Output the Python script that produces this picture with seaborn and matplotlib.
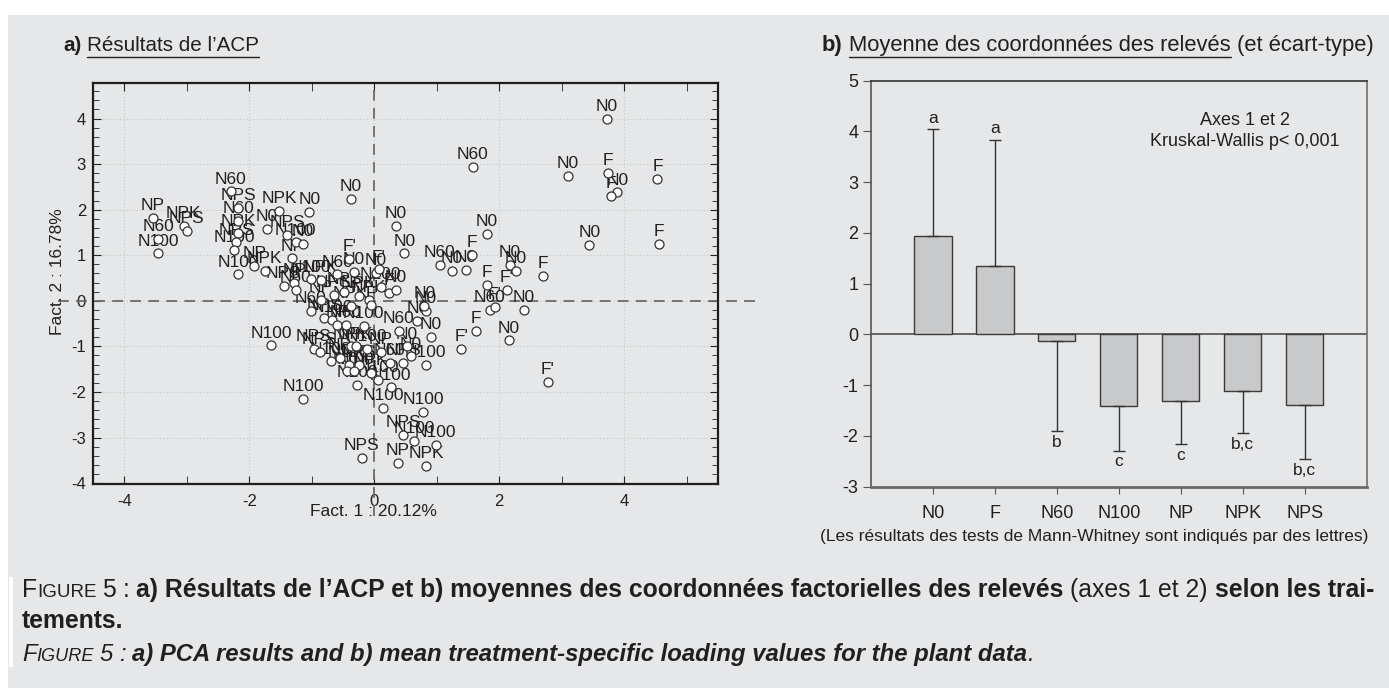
import matplotlib
matplotlib.use("Agg")
import matplotlib.pyplot as plt
from matplotlib.lines import Line2D
from matplotlib.patches import Rectangle
from matplotlib.ticker import MultipleLocator
import pandas as pd
import seaborn as sns

W, H = 1389, 688

# a) PCA scores of the releves (fact. 1, fact. 2) and treatment labels
pca_x = [-3.54, -3.46, -3.46, -3.05, -3.00, -2.30, -2.18, -2.18, -2.18, -2.21,
         -2.24, -2.18, -1.92, -1.75, -1.52, -1.04, -1.72, -1.39, -1.26, -1.14,
         -1.31, -0.38, -1.45, -1.28, -1.26, -1.02, -0.86, -0.59, -0.33, -0.40,
         0.02, 0.07, 0.23, 0.34, -0.09, -0.05, -0.48, -0.65, -0.25, 0.10,
         -0.86, -1.02, -0.80, -0.67, -0.59, -0.38, -0.46, -0.17, 0.69, 0.82,
         0.80, 0.90, 0.39, 0.52, -1.65, -0.97, -0.38, -0.30, -0.12, 0.10,
         -0.55, 0.34, 0.48, 1.80, 1.56, 1.05, 1.24, 1.47, 2.17, 2.27,
         2.70, 1.80, 2.12, 1.85, 1.93, 2.39, 1.63, 2.15, 1.39, 2.78,
         3.72, 1.58, 3.10, 3.74, 4.53, 3.89, 3.78, 3.44, 4.55, 0.82,
         0.59, 0.46, 0.25, 0.26, -0.87, -0.70, -0.41, -0.25, -0.43, -0.33,
         -0.06, 0.06, -0.27, -1.14, 0.14, 0.78, 0.46, 0.64, 0.98, -0.20,
         0.38, 0.83]
pca_y = [1.82, 1.35, 1.04, 1.65, 1.53, 2.40, 2.03, 1.76, 1.48, 1.28,
         1.12, 0.58, 0.77, 0.66, 1.97, 1.95, 1.58, 1.44, 1.28, 1.24,
         0.93, 2.24, 0.33, 0.40, 0.24, 0.47, 0.46, 0.58, 0.64, 0.92,
         0.62, 0.69, 0.17, 0.24, 0.02, -0.10, 0.20, 0.12, 0.10, 0.30,
         0.02, -0.22, -0.38, -0.42, -0.53, -0.12, -0.53, -0.55, -0.45, -0.23,
         -0.12, -0.80, -0.67, -1.00, -0.98, -1.05, -1.00, -1.00, -1.05, -1.12,
         -1.25, 1.64, 1.04, 1.46, 1.00, 0.79, 0.66, 0.68, 0.79, 0.66,
         0.55, 0.34, 0.23, -0.20, -0.13, -0.20, -0.66, -0.87, -1.05, -1.78,
         4.00, 2.94, 2.74, 2.81, 2.68, 2.38, 2.30, 1.22, 1.24, -1.40,
         -1.22, -1.36, -1.36, -1.90, -1.13, -1.33, -1.40, -1.40, -1.55, -1.55,
         -1.58, -1.73, -1.84, -2.15, -2.35, -2.44, -2.95, -3.08, -3.17, -3.44,
         -3.55, -3.63]
pca_lab = ["NP", "N60", "N100", "NPK", "NPS", "N60", "NPS", "N60", "NPK", "NPS",
           "N100", "N100", "NP", "NPK", "NPK", "N0", "N0", "NPS", "N100", "N0",
           "NP", "N0", "NPS", "NP", "N60", "N100", "NPK", "N60", "N0", "F'",
           "N0", "F'", "F", "N0", "NPK", "F", "NPS", "NPS", "NPK", "N100",
           "NP", "N60", "NPS", "N100", "NP", "NPK", "N60", "N100", "N0", "N0",
           "N0", "N0", "N60", "N0", "N100", "NPS", "NPK", "NPK", "N100", "NP",
           "NP", "N0", "N0", "N0", "F", "N60", "N0", "N0", "N0", "N0",
           "F", "F", "F'", "N60", "F'", "N0", "F", "N0", "F'", "F'",
           "N0", "N60", "N0", "F", "F", "N0", "F", "N0", "F", "N100",
           "N0", "NPS", "N60", "N100", "NPS", "N100", "N100", "NPS", "N0", "N100",
           "NPK", "N100", "N100", "N100", "N100", "N100", "NPS", "N100", "N100", "NPS",
           "NP", "NPK"]

# b) mean coordinates per treatment, standard deviation, Mann-Whitney letters
bar_cats = ["N0", "F", "N60", "N100", "NP", "NPK", "NPS"]
bar_means = [1.94, 1.34, -0.12, -1.41, -1.32, -1.11, -1.39]
bar_sd = [2.10, 2.50, 1.79, 0.88, 0.84, 0.84, 1.07]
bar_letters = ["a", "a", "b", "c", "c", "b,c", "b,c"]

BG = "#e6e7e8"
INK = "#231f20"

sns.set_style("ticks")
plt.rcParams["font.family"] = ["Liberation Sans", "DejaVu Sans"]
plt.rcParams["text.color"] = INK
plt.rcParams["axes.labelcolor"] = INK
plt.rcParams["axes.unicode_minus"] = False


def fx(px):
    return px / W


def fy(py):
    return 1 - py / H


fig = plt.figure(figsize=(W / 100, H / 100), dpi=100)
fig.patch.set_facecolor("white")
fig.add_artist(Rectangle((fx(8), 0), 1, fy(15), transform=fig.transFigure,
                         facecolor=BG, edgecolor="none", zorder=-10))
fig.add_artist(Rectangle((fx(9), fy(667)), 4 / W, 90 / H, transform=fig.transFigure,
                         facecolor="white", edgecolor="none", zorder=-9))
rend = fig.canvas.get_renderer()


def runs(x0, base, pieces, size, width=None):
    # pieces: (text, weight, style, relative size, space after)
    arts = []
    x = x0
    for txt, wt, st, rel, sp in pieces:
        t = fig.text(fx(x), fy(base), txt, fontsize=size * rel, fontweight=wt,
                     fontstyle=st, ha="left", va="baseline")
        x += t.get_window_extent(rend).width
        if sp:
            a = fig.text(0, 0, "x x", fontsize=size * rel, fontweight=wt, fontstyle=st)
            b = fig.text(0, 0, "xx", fontsize=size * rel, fontweight=wt, fontstyle=st)
            x += a.get_window_extent(rend).width - b.get_window_extent(rend).width
            a.remove()
            b.remove()
        arts.append(t)
    if width is not None:
        k = width / (x - x0)
        for a in arts:
            a.remove()
        return runs(x0, base, pieces, size * k)
    return arts, size


def underline(art, base):
    bb = art.get_window_extent(rend)
    fig.add_artist(Line2D([fx(bb.x0), fx(bb.x1)], [fy(base + 5.5)] * 2,
                          transform=fig.transFigure, color=INK, lw=1.0))


# ---------------- panel a: PCA scatter ----------------
ax1 = fig.add_axes([fx(93), fy(484), (718 - 93) / W, (484 - 83) / H])
ax1.set_facecolor(BG)
df = pd.DataFrame({"f1": pca_x, "f2": pca_y, "trt": pca_lab})
sns.scatterplot(data=df, x="f1", y="f2", ax=ax1, color="white", edgecolor="#333333",
                s=42, linewidth=0.9, zorder=3, legend=False)
for _, r in df.iterrows():
    ax1.annotate(r["trt"], (r["f1"], r["f2"]), xytext=(0, 3.5), textcoords="offset points",
                 ha="center", va="bottom", fontsize=12.5, color=INK, zorder=2)

ax1.set_xlim(-4.5, 5.5)
ax1.set_ylim(-4.02, 4.78)
ax1.xaxis.set_major_locator(MultipleLocator(2))
ax1.xaxis.set_minor_locator(MultipleLocator(1))
ax1.yaxis.set_major_locator(MultipleLocator(1))
ax1.yaxis.set_minor_locator(MultipleLocator(0.2))
ax1.grid(which="major", ls=(0, (1, 2)), color="#c8c8c8", lw=0.8)
ax1.set_xlabel("")
ax1.set_ylabel("")
ax1.tick_params(which="both", top=True, right=True, direction="in", colors="#222222",
                labelcolor=INK, labelsize=12)
ax1.tick_params(which="major", length=6)
ax1.tick_params(which="minor", length=4)
ax1.tick_params(axis="x", which="minor", length=6)
ax1.tick_params(axis="x", pad=7)
ax1.tick_params(axis="y", pad=5)
for s in ax1.spines.values():
    s.set_color("#1e1e1e")
    s.set_linewidth(1.6)

dash = (0, (6, 4))
ax1.plot([-0.056, 1.059], [0, 0], transform=ax1.get_yaxis_transform(), clip_on=False,
         ls=dash, color="#6a6a6a", lw=1.3, zorder=1)
ax1.plot([0, 0], [-0.08, 1.0], transform=ax1.get_xaxis_transform(), clip_on=False,
         ls=dash, color="#6a6a6a", lw=1.3, zorder=1)

fig.text(fx(373), fy(512), "Fact. 1 : 20.12%", ha="center", va="center", fontsize=12.5)
fig.text(fx(57), fy(272), "Fact. 2 : 16.78%", ha="center", va="center",
         rotation=90, fontsize=12.5)

# ---------------- panel b: bar chart ----------------
ax2 = fig.add_axes([fx(871), fy(486.7), (1366.7 - 871) / W, (486.7 - 80.7) / H])
ax2.set_facecolor(BG)
sns.barplot(x=bar_cats, y=bar_means, ax=ax2, color="#c8c9cb", edgecolor="#3a3a3a",
            linewidth=1.0, width=0.6, errorbar=None, saturation=1, zorder=2)
lo = [sd if m < 0 else 0 for m, sd in zip(bar_means, bar_sd)]
up = [sd if m > 0 else 0 for m, sd in zip(bar_means, bar_sd)]
ax2.errorbar(range(len(bar_cats)), bar_means, yerr=[lo, up], fmt="none", ecolor="#333333",
             elinewidth=1.0, capsize=4.5, capthick=1.0, zorder=3)
ax2.axhline(0, color="#5a5a5a", lw=1.3, zorder=1.5)
for i, (m, sd, let) in enumerate(zip(bar_means, bar_sd, bar_letters)):
    end = m + sd if m > 0 else m - sd
    ax2.annotate(let, (i, end), xytext=(0, 8 if m > 0 else -8), textcoords="offset points",
                 ha="center", va="center", fontsize=12.5, color=INK)

ax2.text(5.03, 4.22, "Axes 1 et 2", ha="center", va="center", fontsize=13)
ax2.text(5.03, 3.80, "Kruskal-Wallis p< 0,001", ha="center", va="center", fontsize=13)

ax2.set_xlim(-1, 7)
ax2.set_ylim(-3, 5)
ax2.yaxis.set_major_locator(MultipleLocator(1))
ax2.tick_params(axis="y", direction="out", length=6, color="#555555", labelsize=13,
                labelcolor=INK, pad=3)
ax2.tick_params(axis="x", direction="out", length=5, color="#555555", labelsize=13,
                labelcolor=INK, pad=8)
ax2.spines["top"].set_color("#333333")
ax2.spines["right"].set_color("#707070")
ax2.spines["left"].set_color("#555555")
ax2.spines["bottom"].set_color("#6a6a6a")
for s in ["top", "right", "left"]:
    ax2.spines[s].set_linewidth(1.2)
ax2.spines["bottom"].set_linewidth(2.0)

fig.text(fx(1094), fy(537), "(Les résultats des tests de Mann-Whitney sont indiqués par des lettres)",
         ha="center", va="center", fontsize=12.5)

# ---------------- panel titles ----------------
ta, _ = runs(63, 51, [("a)", "bold", "normal", 1, True),
                      ("Résultats de l’ACP", "normal", "normal", 1, False)], 12, width=196)
underline(ta[1], 51)
tb, _ = runs(822, 51, [("b)", "bold", "normal", 1, True),
                       ("Moyenne des coordonnées des relevés", "normal", "normal", 1, True),
                       ("(et écart-type)", "normal", "normal", 1, False)], 12, width=555)
underline(tb[1], 51)

# ---------------- caption ----------------
_, cap_size = runs(22, 597, [("F", "normal", "normal", 1, False),
                             ("IGURE", "normal", "normal", 0.76, True),
                             ("5", "normal", "normal", 1, True),
                             (":", "normal", "normal", 1, True),
                             ("a) Résultats de l’ACP et b) moyennes des coordonnées factorielles des relevés",
                              "bold", "normal", 1, True),
                             ("(axes 1 et 2)", "normal", "normal", 1, True),
                             ("selon les trai-", "bold", "normal", 1, False)], 14, width=1353)
runs(22, 628, [("tements.", "bold", "normal", 1, False)], cap_size)
runs(22, 661, [("F", "normal", "italic", 1, False),
               ("IGURE", "normal", "italic", 0.76, True),
               ("5", "normal", "italic", 1, True),
               (":", "normal", "italic", 1, True),
               ("a) PCA results and b) mean treatment-specific loading values for the plant data",
                "bold", "italic", 1, False),
               (".", "normal", "italic", 1, False)], 14, width=1015)

fig.savefig("out.png", dpi=100, facecolor=fig.get_facecolor())
